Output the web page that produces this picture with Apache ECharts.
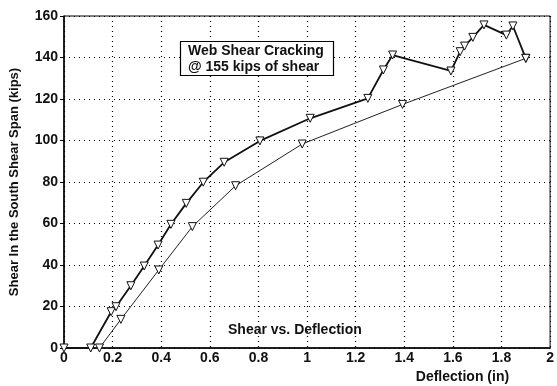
<!DOCTYPE html>
<html>
<head>
<meta charset="utf-8">
<script src="https://cdn.jsdelivr.net/npm/echarts@6/dist/echarts.min.js"></script>
<style>
  html, body { margin: 0; padding: 0; background: #fff; }
  #chart { width: 557px; height: 386px; }
</style>
</head>
<body>
<div id="chart"></div>
<script>
// 上面那条曲线 (粗线)
const upperX = [0, 0.11, 0.194, 0.214, 0.275, 0.33, 0.387, 0.44, 0.503, 0.573, 0.659, 0.806, 1.013, 1.25, 1.314, 1.352, 1.592, 1.63, 1.648, 1.682, 1.728, 1.82, 1.847, 1.9];
const upperY = [0, 0, 17.5, 19.9, 30, 39.5, 49.6, 59.6, 69.7, 79.9, 89.5, 99.8, 110.7, 120.3, 134, 141.2, 133.5, 142.8, 145.5, 149.7, 155.7, 150.8, 155.2, 139.6];
// 下面那条曲线 (细线)
const lowerX = [0.146, 0.234, 0.39, 0.528, 0.706, 0.98, 1.393, 1.9];
const lowerY = [0, 13.8, 37.6, 58.5, 78.2, 98.3, 117.4, 139.6];

const font = "Liberation Sans";

function pairs(xs, ys) {
  return xs.map((x, i) => [x, ys[i]]);
}

const myChart = echarts.init(document.querySelector("#chart"));
const option = {
  animation: false,
  textStyle: { fontFamily: font },
  title: [
    {
      text: "Web Shear Cracking\n@ 155 kips of shear",
      left: 180,
      top: 41,
      padding: [2, 10, 1, 8],
      borderColor: "#000",
      borderWidth: 1.2,
      backgroundColor: "#fff",
      textStyle: { fontSize: 14, fontWeight: "bold", color: "#111", lineHeight: 16, fontFamily: font },
    },
    {
      text: "Shear vs. Deflection",
      left: 223,
      top: 318,
      textStyle: { fontSize: 14, fontWeight: "bold", color: "#111", fontFamily: font },
    },
  ],
  grid: {
    left: 64,
    top: 16,
    right: 1,
    bottom: 38,
    show: true,
    borderColor: "#000",
    borderWidth: 1,
  },
  xAxis: {
    type: "value",
    min: 0,
    max: 2,
    interval: 0.2,
    name: "Deflection (in)",
    nameLocation: "end",
    nameGap: 0,
    nameTextStyle: {
      fontSize: 14,
      fontWeight: "bold",
      color: "#111",
      align: "right",
      verticalAlign: "top",
      padding: [22, 41, 0, 0],
    },
    axisLine: { lineStyle: { color: "#000", width: 1.5 } },
    axisTick: { show: false },
    axisLabel: {
      color: "#111",
      fontSize: 14,
      fontWeight: "bold",
      margin: 3,
      formatter: (v) => String(+v.toFixed(1)),
    },
    splitLine: { lineStyle: { color: "#000", type: [1, 4], width: 1.2 } },
  },
  yAxis: {
    type: "value",
    min: 0,
    max: 160,
    interval: 20,
    name: "Shear In the South Shear Span (kips)",
    nameLocation: "middle",
    nameGap: 43,
    nameTextStyle: { fontSize: 13, fontWeight: "bold", color: "#111" },
    axisLine: { show: true, lineStyle: { color: "#000", width: 1.5 } },
    axisTick: { show: true, length: 4, lineStyle: { color: "#000" } },
    axisLabel: { color: "#111", fontSize: 14, fontWeight: "bold", margin: 6 },
    splitLine: { lineStyle: { color: "#000", type: [1, 4], width: 1.2 } },
  },
  series: [
    {
      name: "upper",
      type: "line",
      data: pairs(upperX, upperY),
      symbol: "triangle",
      symbolRotate: 180,
      symbolSize: 8,
      lineStyle: { color: "#111", width: 1.8 },
      itemStyle: { color: "#fff", borderColor: "#111", borderWidth: 1 },
      z: 3,
    },
    {
      name: "lower",
      type: "line",
      data: pairs(lowerX, lowerY),
      symbol: "triangle",
      symbolRotate: 180,
      symbolSize: 8,
      lineStyle: { color: "#222", width: 1 },
      itemStyle: { color: "#fff", borderColor: "#111", borderWidth: 1 },
      z: 2,
    },
  ],
};
myChart.setOption(option);
</script>
</body>
</html>
